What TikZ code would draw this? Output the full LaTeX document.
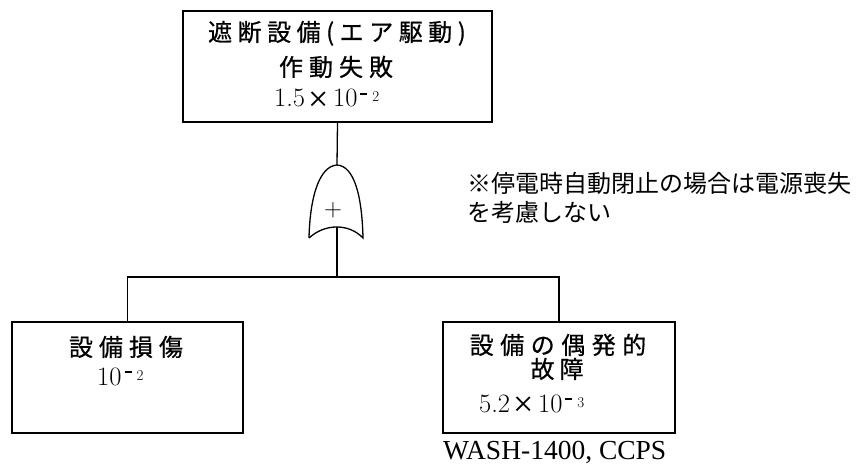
\documentclass[tikz,border=0pt]{standalone}
\usepackage{fontspec}
\newfontfamily\jp{Noto Sans CJK JP}
\newfontfamily\jpb[FakeBold=0.7]{Noto Sans CJK JP}
\newfontfamily\tnr{Liberation Serif}
\makeatletter
\newcommand\spaced[2]{\def\sp@gap{#1}\sp@first#2\relax}
\def\sp@first#1{#1\sp@next}
\def\sp@next#1{\ifx#1\relax\else\hspace{\sp@gap}#1\expandafter\sp@next\fi}
\makeatother
\newcommand\pw[1]{\kern3pt\rule[12pt]{7pt}{1.8pt}\kern5pt\raisebox{5pt}{\fontsize{15}{15}\selectfont #1}}
\newcommand\tms{\kern2pt{\jpb\fontsize{22}{22}\selectfont ×}\kern4pt}
\tikzset{
  fbox/.style={draw, line width=1.3pt, inner sep=0pt},
  conn/.style={line width=1.3pt},
  jpl/.style={anchor=base, inner sep=0pt, font=\jpb\fontsize{24}{28}\selectfont},
  numl/.style={anchor=base west, inner sep=0pt, font=\fontsize{26.5}{28}\selectfont},
  note/.style={anchor=base west, inner sep=0pt, font=\jp\fontsize{24}{28}\selectfont},
}
\begin{document}
\begin{tikzpicture}[x=1pt,y=-1pt]
\useasboundingbox (0,0) rectangle (861,465);
% boxes
\node[fbox, minimum width=309pt, minimum height=111pt] (top) at (337.5,66.5) {};
\node[fbox, minimum width=231pt, minimum height=111pt] (left) at (127.5,377.5) {};
\node[fbox, minimum width=232pt, minimum height=111pt] (right) at (559,377.5) {};
% texts in boxes
\node[jpl] (t1) at (337,41) {\spaced{5.5pt}{遮断設備(エア駆動)}};
\node[jpl] (t2) at (336,76) {\spaced{6pt}{作動失敗}};
\node[numl] (t3) at (274,107) {1.5\tms10\pw{2}};
\node[jpl] (l1) at (126,356) {\spaced{6pt}{設備損傷}};
\node[numl] (l2) at (97,385) {10\pw{2}};
\node[jpl] (r1) at (558,354) {\spaced{6.5pt}{設備の偶発的}};
\node[jpl] (r2) at (557,378) {\spaced{5pt}{故障}};
\node[numl] (r3) at (479,412) {5.2\tms10\pw{3}};
\node[anchor=base west, inner sep=0pt, font=\tnr\fontsize{27.5}{30}\selectfont] (src) at (443,459) {WASH-1400, CCPS};
% note
\node[note] (n1) at (467,193) {※停電時自動閉止の場合は電源喪失};
\node[note] (n2) at (467,221) {を考慮しない};
% OR gate
\coordinate (gtop) at (337,165);
\coordinate (gin) at (337,227);
\coordinate (bus) at (337,277);
\draw[conn] (309,238) .. controls (310,195) and (320,166) .. (gtop)
  .. controls (354,166) and (362,195) .. (363,238)
  .. controls (349,223.3) and (325,223.3) .. (309,238);
\node[inner sep=0pt, font=\fontsize{28}{28}\selectfont] (plus) at (333,210) {$+$};
% connectors
\draw[conn] (top.south) -- (gtop);
\draw[conn] (gin) -- (bus);
\draw[conn] (left.north) |- (bus) -| (right.north);
\end{tikzpicture}
\end{document}
